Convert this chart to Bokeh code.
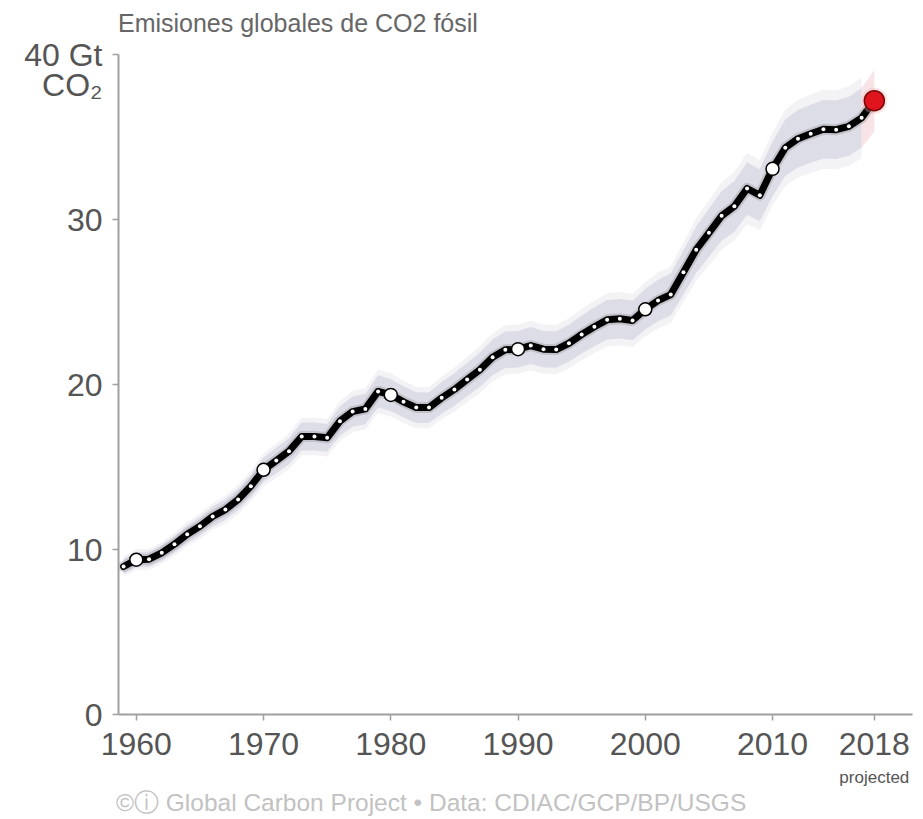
from bokeh.plotting import figure
from bokeh.models import Range1d, FixedTicker, LinearAxis
from bokeh.embed import file_html
from bokeh.resources import INLINE

# Global fossil CO2 emissions, Gt CO2 per year (2018 is the projection)
years = list(range(1959, 2019))
emissions = [
    8.97, 9.38, 9.41, 9.80, 10.32, 10.93, 11.41, 12.00, 12.42, 13.03,
    13.84, 14.83, 15.39, 15.96, 16.85, 16.85, 16.77, 17.78, 18.36, 18.52,
    19.58, 19.37, 18.95, 18.60, 18.60, 19.19, 19.70, 20.30, 20.90, 21.65,
    22.10, 22.14, 22.36, 22.14, 22.12, 22.50, 23.03, 23.50, 23.92, 23.98,
    23.88, 24.56, 25.09, 25.45, 26.80, 28.17, 29.19, 30.22, 30.80, 31.88,
    31.47, 33.07, 34.35, 34.90, 35.20, 35.47, 35.44, 35.65, 36.16, 37.20,
]
decade_years = [1960, 1970, 1980, 1990, 2000, 2010]
projected_year = 2018
uncertainty = 0.05  # +/- 5 % band

x_ticks = [1960, 1970, 1980, 1990, 2000, 2010, 2018]
y_ticks = [0, 10, 20, 30, 40]
y_tick_labels = {0: "0", 10: "10", 20: "20", 30: "30", 40: " \n40 Gt\nCO₂"}

heading = "Emisiones globales de CO2 fósil"
source_note = "©ⓘ Global Carbon Project  •  Data: CDIAC/GCP/BP/USGS"
# years at which the centred heading / source line sit
heading_anchor = 1972.7
source_anchor = 1983.7

FONT = "Liberation Sans"
TEXT = "#555555"
AXIS = "#a0a0a0"

value_of = dict(zip(years, emissions))
hist_years = [y for y in years if y < projected_year]
hist_vals = [value_of[y] for y in hist_years]
lower = [v * (1 - uncertainty) for v in hist_vals]
upper = [v * (1 + uncertainty) for v in hist_vals]
lower_soft = [v * (1 - uncertainty * 1.35) for v in hist_vals]
upper_soft = [v * (1 + uncertainty * 1.35) for v in hist_vals]

proj_years = [projected_year - 1, projected_year]
proj_vals = [value_of[y] for y in proj_years]
proj_lower = [v * (1 - uncertainty) for v in proj_vals]
proj_upper = [v * (1 + uncertainty) for v in proj_vals]

p = figure(
    width=923, height=819,
    x_range=Range1d(1958.6, 2021.0), y_range=Range1d(0, 40),
    output_backend="svg", toolbar_location=None,
    min_border_left=118, min_border_right=11,
    min_border_top=54, min_border_bottom=105,
)
p.outline_line_color = None
p.xgrid.visible = False
p.ygrid.visible = False
p.background_fill_color = "white"
p.border_fill_color = "white"

# uncertainty band
p.varea(x=hist_years, y1=lower_soft, y2=upper_soft, fill_color="#dcdce6", fill_alpha=0.35)
p.varea(x=hist_years, y1=lower, y2=upper, fill_color="#d6d6e2", fill_alpha=0.75)
p.varea(x=proj_years, y1=proj_lower, y2=proj_upper, fill_color="#f4d2d6", fill_alpha=0.6)

# emissions line
p.line(years, emissions, line_color="#8c8c94", line_width=11, line_alpha=0.35,
       line_join="round", line_cap="round")
p.line(years, emissions, line_color="black", line_width=7,
       line_join="round", line_cap="round")
p.scatter(hist_years, hist_vals, size=4, fill_color="white", line_color=None)
p.scatter(decade_years, [value_of[y] for y in decade_years], size=13,
          fill_color="white", line_color="black", line_width=1.5)
p.scatter([projected_year], [value_of[projected_year]], size=26,
          fill_color="#f3b0b5", fill_alpha=0.35, line_color=None)
p.scatter([projected_year], [value_of[projected_year]], size=20,
          fill_color="#e0141c", line_color="#7a0a0a", line_width=1.5)


def text_axis(tick, label, size, color, standoff):
    """An axis with no line or ticks, used to carry a single text label."""
    ax = LinearAxis(ticker=FixedTicker(ticks=[tick]))
    ax.major_label_overrides = {tick: label}
    ax.axis_line_color = None
    ax.major_tick_line_color = None
    ax.minor_tick_line_color = None
    ax.major_tick_in = 0
    ax.major_tick_out = 0
    ax.major_label_standoff = standoff
    ax.major_label_text_font = FONT
    ax.major_label_text_font_size = size
    ax.major_label_text_color = color
    return ax


# x axis
xa = p.xaxis[0]
xa.ticker = FixedTicker(ticks=x_ticks)
xa.major_label_overrides = {t: str(t) for t in x_ticks}
xa.minor_tick_line_color = None
xa.major_tick_in = 0
xa.major_tick_out = 6
xa.axis_line_color = AXIS
xa.axis_line_width = 2
xa.major_tick_line_color = AXIS
xa.major_tick_line_width = 1.5
xa.major_label_text_font = FONT
xa.major_label_text_font_size = "32px"
xa.major_label_text_color = TEXT
xa.major_label_standoff = 12

# "projected" note under the last year, then the source line
p.add_layout(text_axis(projected_year, "projected", "17px", TEXT, 10), "below")
p.add_layout(text_axis(source_anchor, source_note, "24.5px", "#c2c2c2", -1), "below")

# heading above the plot
p.add_layout(text_axis(heading_anchor, heading, "25px", "#666666", 18), "above")

# y axis (top label carries the unit)
ya = p.yaxis[0]
ya.ticker = FixedTicker(ticks=y_ticks)
ya.major_label_overrides = y_tick_labels
ya.minor_tick_line_color = None
ya.major_tick_in = 0
ya.major_tick_out = 6
ya.axis_line_color = AXIS
ya.axis_line_width = 2
ya.major_tick_line_color = AXIS
ya.major_tick_line_width = 1.5
ya.major_label_text_font = FONT
ya.major_label_text_font_size = "32px"
ya.major_label_text_line_height = 0.85
ya.major_label_text_color = TEXT
ya.major_label_standoff = 10

open("out.html", "w").write(file_html(p, INLINE))
